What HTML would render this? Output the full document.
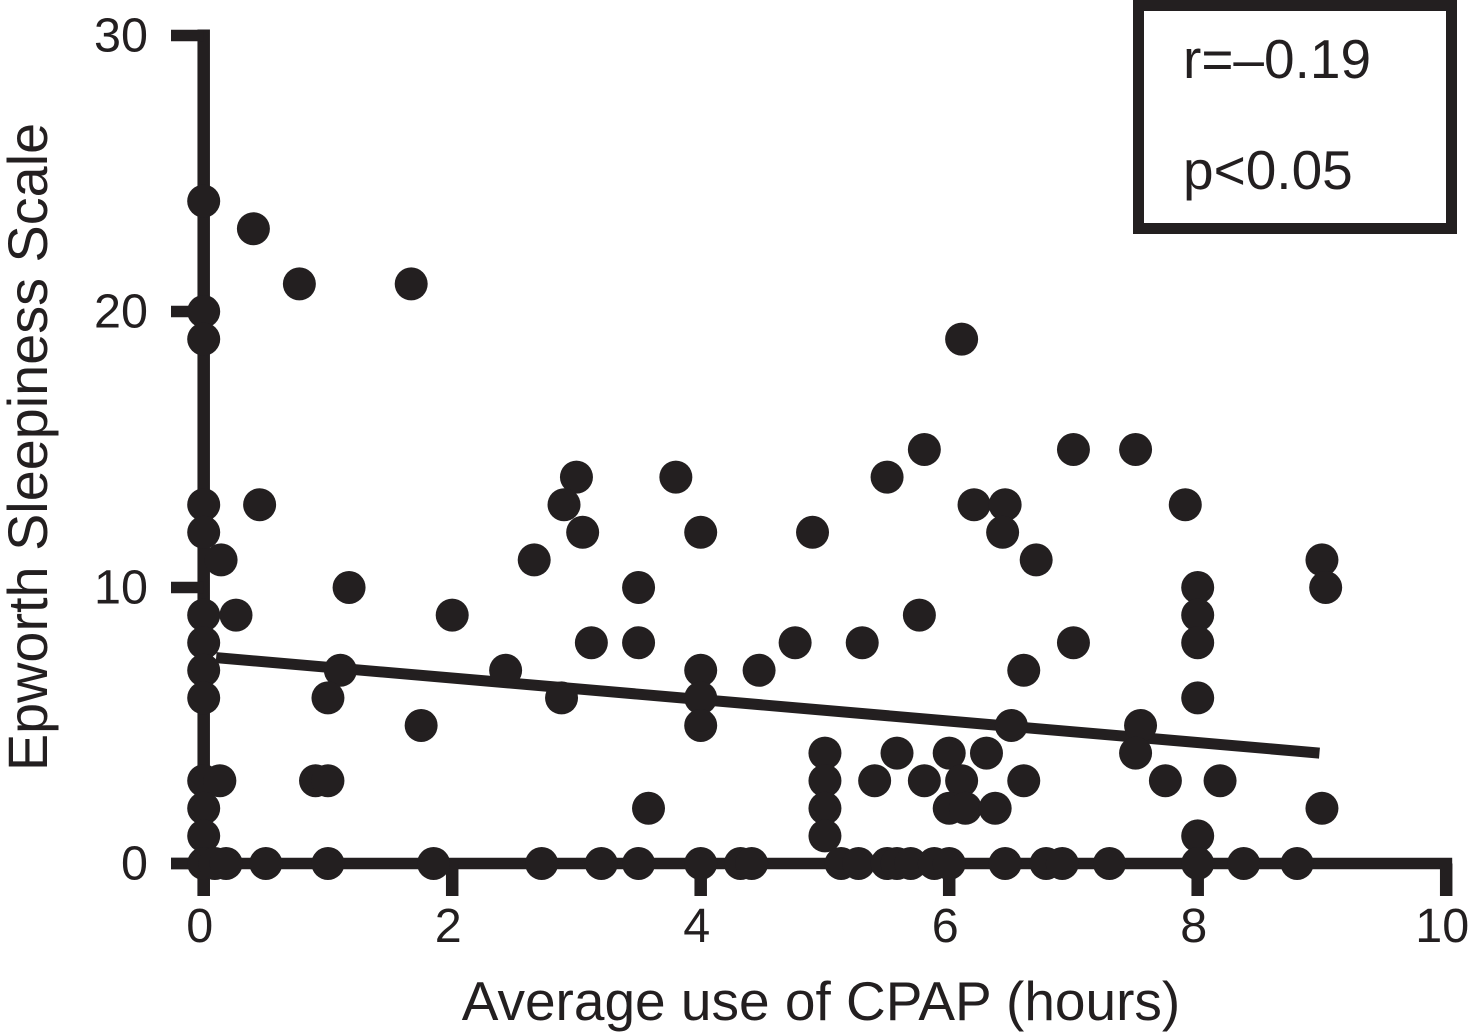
<!DOCTYPE html>
<html lang="en">
<head>
<meta charset="utf-8">
<title>Epworth Sleepiness Scale vs CPAP use</title>
<style>
html,body{margin:0;padding:0;background:#fff;}
svg{display:block;}
text{font-family:"Liberation Sans",sans-serif;fill:#231f20;}
</style>
</head>
<body>
<svg id="chart" xmlns="http://www.w3.org/2000/svg" width="1471" height="1033" viewBox="0 0 1471 1033"></svg>
<script>
const xTicks = [0, 2, 4, 6, 8, 10];
const yTicks = [0, 10, 20, 30];
const hoursUse = [
  0, 0.4, 0.77, 1.67,
  0, 0, 6.1,
  5.8, 7.0, 7.5,
  3.0, 3.8, 5.5,
  0, 0.45, 2.9, 6.2, 6.45, 7.9,
  0, 3.05, 4, 4.9, 6.43,
  0.14, 2.66, 6.7, 9,
  1.17, 3.5, 8, 9.03,
  0, 0.26, 2, 5.76, 8,
  0, 3.12, 3.5, 4.76, 5.3, 7, 8,
  0, 1.1, 2.43, 4, 4.47, 6.6,
  0, 1.0, 2.88, 4, 8,
  1.75, 4, 6.5, 7.54,
  5, 5.58, 6, 6.3, 7.5,
  0, 0.13, 0.9, 1.0, 5, 5.4, 5.8, 6.1, 6.6, 7.74, 8.18,
  0, 3.58, 5, 6, 6.13, 6.37, 9,
  0, 5, 8,
  0, 0.09, 0.18, 0.5, 1.0, 1.85, 2.72, 3.2, 3.5, 4, 4.32, 4.41, 5.13, 5.27, 5.5, 5.58, 5.69, 5.88, 6, 6.45, 6.78, 6.91, 7.29, 8, 8.37, 8.8
];
const sleepinessScore = [
  24, 23, 21, 21,
  20, 19, 19,
  15, 15, 15,
  14, 14, 14,
  13, 13, 13, 13, 13, 13,
  12, 12, 12, 12, 12,
  11, 11, 11, 11,
  10, 10, 10, 10,
  9, 9, 9, 9, 9,
  8, 8, 8, 8, 8, 8, 8,
  7, 7, 7, 7, 7, 7,
  6, 6, 6, 6, 6,
  5, 5, 5, 5,
  4, 4, 4, 4, 4,
  3, 3, 3, 3, 3, 3, 3, 3, 3, 3, 3,
  2, 2, 2, 2, 2, 2, 2,
  1, 1, 1,
  0, 0, 0, 0, 0, 0, 0, 0, 0, 0, 0, 0, 0, 0, 0, 0, 0, 0, 0, 0, 0, 0, 0, 0, 0, 0
];
const fitHours = [0.1, 8.98];
const fitScore = [7.46, 4.0];

const INK = '#231f20';
const svg = document.getElementById('chart');
const NS = 'http://www.w3.org/2000/svg';
function xScale(v) { return 203.7 + v * 124.25; }
function yScale(v) { return 863.5 - v * 27.6; }
function make(tag, attrs, parent, text) {
  const el = document.createElementNS(NS, tag);
  for (const k in attrs) el.setAttribute(k, attrs[k]);
  if (text !== undefined) el.textContent = text;
  (parent || svg).appendChild(el);
  return el;
}

// axes
const yAxis = make('line', {x1: xScale(0), x2: xScale(0), y1: yScale(30) - 6, y2: 896, stroke: INK, 'stroke-width': 12.5});


const xAxis = make('line', {x1: 171, x2: xScale(10) + 6, y1: yScale(0), y2: yScale(0), stroke: INK, 'stroke-width': 11.5});



xTicks.forEach(function (t) {
  const tick = make('line', {x1: xScale(t), x2: xScale(t), y1: yScale(0), y2: 896, stroke: INK, 'stroke-width': 12.5});
  
  
  const label = make('text', {x: xScale(t) - 4, y: 942, 'font-size': 48.5, 'text-anchor': 'middle'}, svg, String(t));
  
  
});
yTicks.forEach(function (t) {
  const tick = make('line', {x1: 171, x2: xScale(0), y1: yScale(t), y2: yScale(t), stroke: INK, 'stroke-width': 11.5});
  
  
  const label = make('text', {x: 148, y: yScale(t) + 16, 'font-size': 48.5, 'text-anchor': 'end'}, svg, String(t));
  
  
});

// regression line
const fit = make('line', {x1: xScale(fitHours[0]), y1: yScale(fitScore[0]), x2: xScale(fitHours[1]), y2: yScale(fitScore[1]), stroke: INK, 'stroke-width': 11});



// points
hoursUse.forEach(function (h, i) {
  const dot = make('circle', {cx: xScale(h), cy: yScale(sleepinessScore[i]), r: 16.5, fill: INK});
  
  
});

// titles
const xTitle = make('text', {x: 821, y: 1020, 'font-size': 55, 'text-anchor': 'middle'}, svg, 'Average use of CPAP (hours)');


const yTitle = make('text', {x: 0, y: 0, 'font-size': 55.8, 'text-anchor': 'middle', transform: 'translate(47 447) rotate(-90)'}, svg, 'Epworth Sleepiness Scale');



// stats box
const box = make('rect', {x: 1138.5, y: 5.5, width: 313, height: 223, fill: '#fff', stroke: INK, 'stroke-width': 11});


const rText = make('text', {x: 1183, y: 78, 'font-size': 55}, svg, 'r=\u20130.19');


const pText = make('text', {x: 1183, y: 189, 'font-size': 55}, svg, 'p<0.05');


</script>
</body>
</html>
